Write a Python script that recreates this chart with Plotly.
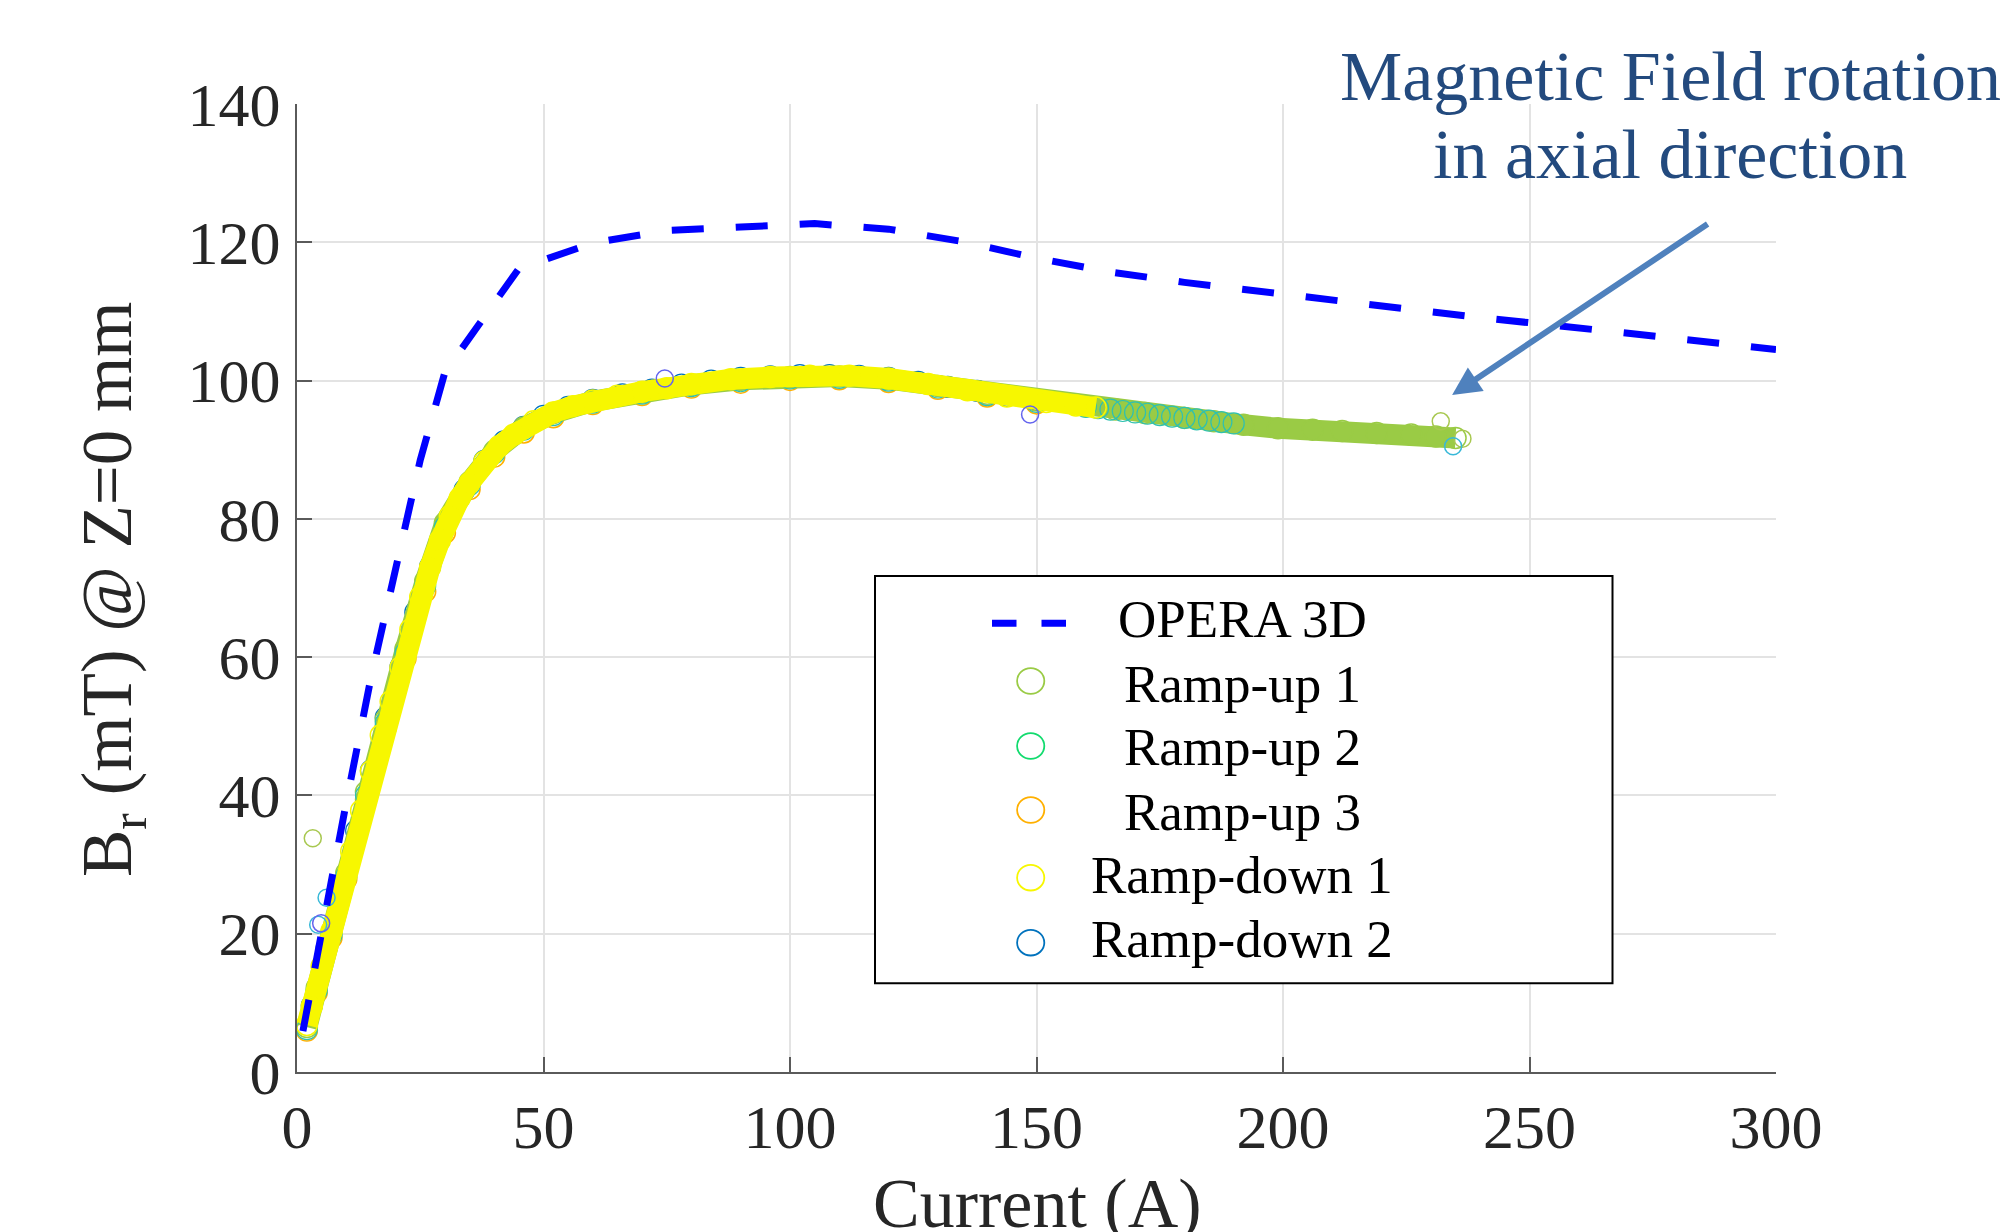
import plotly.graph_objects as go

# ---------------- data ----------------
opera_x = [1.2, 5, 10, 15, 20, 25, 30, 45, 60, 75, 90, 105, 120, 135, 150, 165, 180, 195, 210, 225, 240, 255, 270, 285, 300]
opera_y = [5.9, 20.5, 39.0, 57.0, 73.0, 88.5, 101.2, 116.2, 119.9, 121.7, 122.2, 122.7, 121.9, 120.1, 117.7, 115.7, 114.2, 112.9, 111.7, 110.5, 109.1, 108.0, 106.8, 105.7, 104.5]

ramp_up1_x = [2, 4, 7, 10, 14, 18, 22, 26, 30, 35, 40, 46, 52, 60, 70, 80, 90, 100, 110, 120, 130, 140, 150, 160, 166, 172, 180, 186, 192, 199, 206, 212, 219, 226, 231, 235]
ramp_up1_y = [6.5, 12.2, 20.2, 28.8, 40.5, 51.0, 61.2, 71.0, 79.4, 85.3, 89.8, 93.2, 95.3, 97.0, 98.3, 99.4, 100.1, 100.5, 100.6, 100.2, 99.2, 98.1, 97.1, 96.3, 95.8, 95.3, 94.6, 94.1, 93.6, 93.1, 92.9, 92.7, 92.4, 92.2, 91.9, 91.7]
ramp_up1_out_x = [3.2, 232.0, 236.4]
ramp_up1_out_y = [33.8, 94.1, 91.6]

ramp_up2_x = [2, 4, 7, 10, 14, 18, 22, 26, 30, 35, 40, 46, 52, 60, 70, 80, 90, 100, 110, 120, 130, 140, 150, 160, 162.5, 165, 167.5, 170, 172.5, 175, 177.5, 180, 182.5, 185, 187.5, 190]
ramp_up2_y = [6.2, 11.8, 19.8, 28.3, 40.0, 50.5, 60.6, 70.3, 78.8, 84.9, 89.5, 92.9, 95.0, 96.8, 98.1, 99.2, 99.9, 100.3, 100.4, 100.0, 99.0, 97.9, 96.9, 96.2, 96.0, 95.8, 95.6, 95.4, 95.2, 95.0, 94.8, 94.6, 94.4, 94.2, 94.0, 93.8]
ramp_up2_out_x = [4.3, 6.0, 234.5]
ramp_up2_out_y = [21.3, 25.2, 90.5]

ramp_up3_x = [2, 4, 7, 10, 14, 18, 22, 26, 30, 35, 40, 46, 52, 60, 70, 80, 90, 100, 110, 120, 130, 140, 150]
ramp_up3_y = [6.0, 11.5, 19.4, 27.9, 39.4, 49.8, 59.8, 69.5, 78.0, 84.3, 89.0, 92.5, 94.7, 96.6, 97.9, 99.0, 99.7, 100.1, 100.2, 99.8, 98.8, 97.7, 96.7]

ramp_down1_x = [2, 3, 5, 7, 9, 11, 13, 15, 17, 19, 21, 23, 25, 27, 29, 31, 33, 35, 38, 41, 44, 48, 52, 56, 60, 65, 70, 75, 80, 88, 96, 104, 112, 120, 128, 136, 144, 152, 158, 162]
ramp_down1_y = [6.8, 9.5, 15.3, 20.4, 26.3, 31.9, 37.8, 43.5, 48.7, 53.6, 58.5, 64.0, 68.7, 73.0, 76.9, 80.4, 83.0, 85.2, 88.3, 90.5, 92.2, 94.1, 95.4, 96.3, 97.1, 97.8, 98.4, 98.9, 99.5, 100.2, 100.5, 100.7, 100.7, 100.3, 99.5, 98.6, 97.7, 96.9, 96.4, 96.1]

ramp_down2_x = [3, 6, 9, 12, 15, 18, 21, 24, 27, 30, 34, 38, 42, 46, 50, 55, 60, 66, 72, 78, 84, 90, 96, 102, 108, 114, 120, 126, 132, 138, 144, 150]
ramp_down2_y = [9.6, 17.9, 26.4, 34.9, 43.6, 51.3, 58.6, 66.5, 73.1, 78.8, 84.2, 88.4, 91.2, 93.3, 94.9, 96.2, 97.2, 98.0, 98.7, 99.4, 100.0, 100.4, 100.6, 100.8, 100.8, 100.7, 100.4, 99.8, 99.1, 98.5, 97.8, 97.2]
ramp_down2_out_x = [4.9, 74.6, 148.7]
ramp_down2_out_y = [21.5, 100.3, 95.1]

x_ticks = [0, 50, 100, 150, 200, 250, 300]
y_ticks = [0, 20, 40, 60, 80, 100, 120, 140]

series_names = ["OPERA 3D", "Ramp-up 1", "Ramp-up 2", "Ramp-up 3", "Ramp-down 1", "Ramp-down 2"]
c_opera = "#0000FF"
c_up1 = "#9ACB45"
c_up2 = "#12DB6E"
c_up3 = "#FFB000"
c_down1 = "#F7F700"
c_down2 = "#0072BD"

# ---------------- geometry ----------------
W, H = 2001, 1232
L, R, T, B = 297, 225, 104, 160
PW, PH = W - L - R, H - T - B
SERIF = "Liberation Serif, Times New Roman, serif"


def px(xp):
    return (xp - L) / PW


def py(yp):
    return (H - B - yp) / PH


MS = 21


def ring_trace(xs, ys, color, lw=1.5, size=MS):
    return go.Scatter(x=xs, y=ys, mode="markers", showlegend=False,
                      marker=dict(symbol="circle-open", size=size, color=color, line=dict(width=lw, color=color)))


def band_trace(xs, ys, color):
    return go.Scatter(x=xs, y=ys, mode="lines+markers", showlegend=False,
                      line=dict(color=color, width=21),
                      marker=dict(symbol="circle-open", size=MS, color=color, line=dict(width=1.5, color=color)))


fig = go.Figure()
fig.add_trace(ring_trace(ramp_down2_x, ramp_down2_y, c_down2, lw=1.2))
fig.add_trace(ring_trace(ramp_up3_x, ramp_up3_y, c_up3))
fig.add_trace(band_trace(ramp_up1_x, ramp_up1_y, c_up1))
fig.add_trace(ring_trace(ramp_up2_x, ramp_up2_y, "#2FC0B0", lw=1.2))
fig.add_trace(band_trace(ramp_down1_x, ramp_down1_y, c_down1))
fig.add_trace(ring_trace(ramp_up1_out_x, ramp_up1_out_y, "#A8C850", size=17))
fig.add_trace(ring_trace(ramp_up2_out_x, ramp_up2_out_y, "#38B8D8", size=17))
fig.add_trace(ring_trace(ramp_down2_out_x, ramp_down2_out_y, "#6464EE", size=17))
fig.add_trace(go.Scatter(x=opera_x, y=opera_y, mode="lines", showlegend=False,
                         line=dict(color=c_opera, width=7, dash="32px,32px")))

axis_common = dict(
    showline=True, linecolor="#5a5a5a", linewidth=2,
    ticks="inside", ticklen=15, tickwidth=1.8, tickcolor="#5a5a5a",
    showgrid=True, gridcolor="#E3E3E3", gridwidth=1.5,
    zeroline=False, mirror=False,
    tickfont=dict(family=SERIF, size=62, color="#262626"),
)

fig.update_layout(
    width=W, height=H,
    margin=dict(l=L, r=R, t=T, b=B, autoexpand=False),
    paper_bgcolor="white", plot_bgcolor="white",
    showlegend=False,
    xaxis=dict(range=[0, 300], tickvals=x_ticks, ticklabelstandoff=0, **axis_common),
    yaxis=dict(range=[0, 140], tickvals=y_ticks, ticklabelstandoff=2, **axis_common),
)

annotations = []
# axis titles
annotations.append(dict(xref="paper", yref="paper", x=px(1037), y=py(1203), text="Current (A)",
                        showarrow=False, xanchor="center", yanchor="middle",
                        font=dict(family=SERIF, size=70, color="#262626")))
annotations.append(dict(xref="paper", yref="paper", x=px(112), y=py(589), text="B<sub>r</sub> (mT) @ Z=0 mm",
                        showarrow=False, xanchor="center", yanchor="middle", textangle=-90,
                        font=dict(family=SERIF, size=71, color="#262626")))
# call-out text
annotations.append(dict(xref="paper", yref="paper", x=px(1670), y=py(77), text="Magnetic Field rotation",
                        showarrow=False, xanchor="center", yanchor="middle",
                        font=dict(family=SERIF, size=70, color="#234A7E")))
annotations.append(dict(xref="paper", yref="paper", x=px(1670), y=py(154), text="in axial direction",
                        showarrow=False, xanchor="center", yanchor="middle",
                        font=dict(family=SERIF, size=70, color="#234A7E")))
# arrow
annotations.append(dict(xref="x", yref="y", x=234.3, y=97.9, ax=257, ay=-172, text="",
                        showarrow=True, arrowhead=2, arrowwidth=6, arrowsize=0.95,
                        arrowcolor="#4F81BD", standoff=0))

# ---------------- legend (drawn by hand, MATLAB style) ----------------
shapes = []
shapes.append(dict(type="rect", xref="paper", yref="paper", x0=px(875), x1=px(1612.5), y0=py(983.3), y1=py(576),
                   line=dict(color="black", width=2), fillcolor="white", layer="above"))
shapes.append(dict(type="line", xref="paper", yref="paper", x0=px(992), x1=px(1066), y0=py(623.3), y1=py(623.3),
                   line=dict(color=c_opera, width=7, dash="24.5px,25px"), layer="above"))
legend_colors = [c_up1, c_up2, c_up3, c_down1, c_down2]
circle_y = [681, 746, 810, 877.7, 942.7]
for col, cy in zip(legend_colors, circle_y):
    shapes.append(dict(type="circle", xref="paper", yref="paper",
                       x0=px(1030.7 - 13.6), x1=px(1030.7 + 13.6), y0=py(cy + 12.8), y1=py(cy - 12.8),
                       line=dict(color=col, width=1.8), layer="above"))
text_y = [618.8, 683.8, 747.1, 812.1, 875.1, 938.8]
for name, ty in zip(series_names, text_y):
    annotations.append(dict(xref="paper", yref="paper", x=px(1242), y=py(ty), text=name,
                            showarrow=False, xanchor="center", yanchor="middle",
                            font=dict(family=SERIF, size=53, color="black")))

fig.update_layout(annotations=annotations, shapes=shapes)
fig.write_html("out.html")
